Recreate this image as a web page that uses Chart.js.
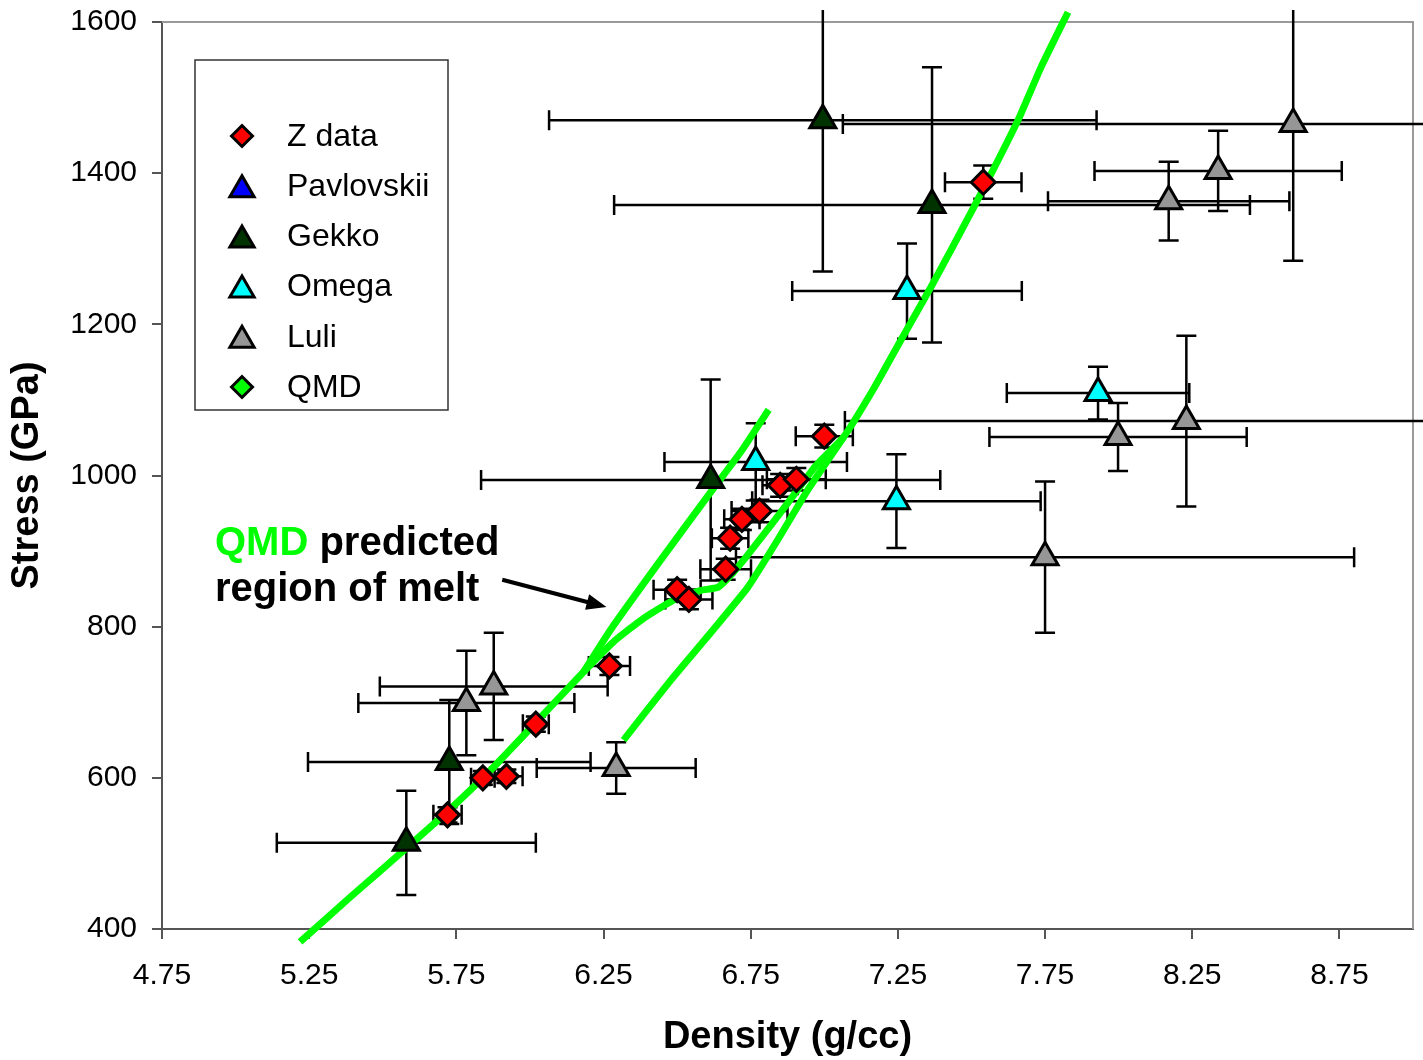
<!DOCTYPE html>
<html lang="en">
<head>
<meta charset="UTF-8">
<title>Stress vs Density</title>
<script src="https://cdn.jsdelivr.net/npm/chart.js"></script>
<style>
    html, body { margin: 0; padding: 0; background: #fff; }
    canvas { display: block; }
</style>
</head>
<body>
<canvas id="chart" width="1423" height="1060"></canvas>
<script>
const FONT = "'Liberation Sans', Arial, sans-serif";

// axis ticks
const xTicks = [4.75, 5.25, 5.75, 6.25, 6.75, 7.25, 7.75, 8.25, 8.75];
const yTicks = [400, 600, 800, 1000, 1200, 1400, 1600];

// Z data (density, stress, +/- errors)
const zX    = [5.72, 5.84, 5.92, 6.02, 6.27, 6.50, 6.54, 6.665, 6.68, 6.72, 6.78, 6.85, 6.905, 7.00, 7.54];
const zY    = [551, 600, 602, 671, 748, 849, 836, 876, 917, 942, 953, 987, 995, 1052, 1388];
const zXErr = [0.048, 0.04, 0.055, 0.044, 0.07, 0.08, 0.08, 0.086, 0.062, 0.06, 0.095, 0.06, 0.1, 0.097, 0.13];
const zYErr = [10, 9, 9, 10, 12, 13, 13, 14, 14, 14, 15, 15, 15, 15, 22];

// Pavlovskii (only in legend)
const pavX = [];
const pavY = [];
const pavXErr = [];
const pavYErr = [];

// Gekko
const gekX    = [5.58, 5.726, 6.614, 6.995, 7.366];
const gekY    = [514, 621, 994, 1470, 1358];
const gekXErr = [0.44, 0.48, 0.78, 0.93, 1.08];
const gekYErr = [69, 82, 133, 200, 182];

// Omega
const omeX    = [7.281, 6.767, 7.245, 7.93];
const omeY    = [1244, 1018, 966, 1109];
const omeXErr = [0.39, 0.31, 0.49, 0.31];
const omeYErr = [63, 51, 62, 35];

// Luli
const luX    = [5.784, 5.877, 6.293, 7.75, 7.998, 8.23, 8.17, 8.338, 8.593];
const luY    = [699, 721, 613, 892, 1051, 1072, 1363, 1403, 1465];
const luXErr = [0.367, 0.387, 0.27, 1.05, 0.437, 1.16, 0.41, 0.42, 1.53];
const luYErr = [69, 71, 34, 100, 45, 113, 52, 53, 181];

// QMD curves: hugoniot through the melt kink, solid branch, liquid branch
const qmdMainX = [5.219, 5.389, 5.583, 5.719, 5.866, 6.022, 6.182, 6.284, 6.386, 6.488, 6.58, 6.638, 6.689, 6.74, 6.818, 6.896, 6.971, 7.066, 7.165, 7.26, 7.362, 7.508, 7.658, 7.736, 7.828];
const qmdMainY = [383, 442, 508, 555, 610, 674, 740, 780, 811, 835, 848, 852, 871, 895, 934, 974, 1013, 1051, 1113, 1179, 1249, 1355, 1470, 1540, 1613];
const qmdSolidX = [6.182, 6.274, 6.444, 6.614, 6.716, 6.811];
const qmdSolidY = [740, 796, 888, 978, 1031, 1087];
const qmdLiquidX = [6.318, 6.478, 6.614, 6.74, 6.842, 6.944, 7.066];
const qmdLiquidY = [650, 729, 792, 852, 915, 981, 1051];

function pts(xs, ys) {
    return xs.map((x, i) => ({ x: x, y: ys[i] }));
}

function markerSet(label, xs, ys, ex, ey, style, color, r) {
    return {
        label: label,
        data: pts(xs, ys),
        errX: ex,
        errY: ey,
        pointStyle: style,
        pointRadius: r,
        backgroundColor: color,
        borderColor: '#000',
        borderWidth: 3,
        showLine: false,
        legendStyle: style,
        clip: false
    };
}

function qmdLine(xs, ys) {
    return {
        label: 'QMD',
        data: pts(xs, ys),
        showLine: true,
        borderColor: '#00ff00',
        borderWidth: 7,
        pointRadius: 0,
        tension: 0.15,
        fill: false,
        clip: { left: 20, top: 12, right: 20, bottom: 16 }
    };
}

// simple shapes, centred on their bounding box like the Excel markers
function diamond(ctx, x, y, r) {
    ctx.beginPath();
    ctx.moveTo(x - r, y); ctx.lineTo(x, y - r); ctx.lineTo(x + r, y); ctx.lineTo(x, y + r);
    ctx.closePath();
}
function triangle(ctx, x, y, r) {
    const h = r * 1.5, w = r * Math.sqrt(3) / 2;
    ctx.beginPath();
    ctx.moveTo(x, y - h / 2); ctx.lineTo(x + w, y + h / 2); ctx.lineTo(x - w, y + h / 2);
    ctx.closePath();
}

const errorBars = {
    id: 'errorBars',
    beforeDatasetsDraw(chart) {
        const ctx = chart.ctx, a = chart.chartArea;
        const xs = chart.scales.x, ys = chart.scales.y;
        ctx.save();
        // top and right frame of plot area
        ctx.strokeStyle = '#9a9a9a';
        ctx.lineWidth = 2;
        ctx.beginPath();
        ctx.moveTo(a.left, a.top); ctx.lineTo(a.right, a.top); ctx.lineTo(a.right, a.bottom);
        ctx.stroke();

        ctx.beginPath();
        ctx.rect(0, 10, chart.width, chart.height - 10);
        ctx.clip();
        ctx.strokeStyle = '#000';
        ctx.lineWidth = 2.5;
        const cap = 10;
        chart.data.datasets.forEach(ds => {
            if (!ds.errX) return;
            ds.data.forEach((p, i) => {
                const cx = xs.getPixelForValue(p.x), cy = ys.getPixelForValue(p.y);
                const x0 = xs.getPixelForValue(p.x - ds.errX[i]), x1 = xs.getPixelForValue(p.x + ds.errX[i]);
                const y0 = ys.getPixelForValue(p.y - ds.errY[i]), y1 = ys.getPixelForValue(p.y + ds.errY[i]);
                ctx.beginPath();
                ctx.moveTo(x0, cy); ctx.lineTo(x1, cy);
                ctx.moveTo(x0, cy - cap); ctx.lineTo(x0, cy + cap);
                ctx.moveTo(x1, cy - cap); ctx.lineTo(x1, cy + cap);
                ctx.moveTo(cx, y0); ctx.lineTo(cx, y1);
                ctx.moveTo(cx - cap, y0); ctx.lineTo(cx + cap, y0);
                ctx.moveTo(cx - cap, y1); ctx.lineTo(cx + cap, y1);
                ctx.stroke();
            });
        });
        ctx.restore();
    }
};

const overlay = {
    id: 'overlay',
    afterDraw(chart) {
        const ctx = chart.ctx, a = chart.chartArea;
        const xs = chart.scales.x, ys = chart.scales.y;
        ctx.save();

        // legend box
        const bx = a.left + 33, by = a.top + 38, bw = 253, bh = 350;
        ctx.fillStyle = '#fff';
        ctx.fillRect(bx, by, bw, bh);
        ctx.strokeStyle = '#333';
        ctx.lineWidth = 1.5;
        ctx.strokeRect(bx, by, bw, bh);
        ctx.font = '32px ' + FONT;
        ctx.textBaseline = 'middle';
        ctx.textAlign = 'left';
        let row = 0;
        chart.data.datasets.forEach(ds => {
            if (!ds.legendStyle) return;
            const ly = by + 76 + row * 50.2;
            const mx = bx + 47;
            if (ds.legendStyle === 'rectRot') diamond(ctx, mx, ly, 10.5);
            else triangle(ctx, mx, ly, 14);
            ctx.fillStyle = ds.backgroundColor;
            ctx.fill();
            ctx.lineWidth = 3;
            ctx.strokeStyle = '#000';
            ctx.stroke();
            ctx.fillStyle = '#000';
            ctx.fillText(ds.label, bx + 92, ly + 1);
            row++;
        });

        // annotation
        const tx = xs.getPixelForValue(4.93);
        ctx.font = 'bold 40px ' + FONT;
        ctx.textBaseline = 'alphabetic';
        ctx.fillStyle = '#00ff00';
        ctx.fillText('QMD', tx, ys.getPixelForValue(895));
        const w = ctx.measureText('QMD ').width;
        ctx.fillStyle = '#000';
        ctx.fillText('predicted', tx + w, ys.getPixelForValue(895));
        ctx.fillText('region of melt', tx, ys.getPixelForValue(834));

        // arrow
        const ax0 = xs.getPixelForValue(5.906), ay0 = ys.getPixelForValue(862);
        const ax1 = xs.getPixelForValue(6.26), ay1 = ys.getPixelForValue(826);
        const ang = Math.atan2(ay1 - ay0, ax1 - ax0);
        ctx.strokeStyle = '#000';
        ctx.lineWidth = 4;
        ctx.beginPath();
        ctx.moveTo(ax0, ay0);
        ctx.lineTo(ax1 - 14 * Math.cos(ang), ay1 - 14 * Math.sin(ang));
        ctx.stroke();
        ctx.beginPath();
        ctx.moveTo(ax1, ay1);
        ctx.lineTo(ax1 - 20 * Math.cos(ang) + 8 * Math.sin(ang), ay1 - 20 * Math.sin(ang) - 8 * Math.cos(ang));
        ctx.lineTo(ax1 - 20 * Math.cos(ang) - 8 * Math.sin(ang), ay1 - 20 * Math.sin(ang) + 8 * Math.cos(ang));
        ctx.closePath();
        ctx.fillStyle = '#000';
        ctx.fill();
        ctx.restore();
    }
};

const qmdLegend = qmdLine([], []);
qmdLegend.backgroundColor = '#00ff00';
qmdLegend.legendStyle = 'rectRot';

new Chart(document.getElementById('chart'), {
    type: 'scatter',
    data: {
        datasets: [
            markerSet('Z data', zX, zY, zXErr, zYErr, 'rectRot', '#ff0000', 12),
            markerSet('Pavlovskii', pavX, pavY, pavXErr, pavYErr, 'triangle', '#0000ff', 15),
            markerSet('Gekko', gekX, gekY, gekXErr, gekYErr, 'triangle', '#003300', 15),
            markerSet('Omega', omeX, omeY, omeXErr, omeYErr, 'triangle', '#00ffff', 15),
            markerSet('Luli', luX, luY, luXErr, luYErr, 'triangle', '#969696', 15),
            qmdLegend,
            qmdLine(qmdMainX, qmdMainY),
            qmdLine(qmdSolidX, qmdSolidY),
            qmdLine(qmdLiquidX, qmdLiquidY)
        ]
    },
    options: {
        responsive: false,
        animation: false,
        events: [],
        layout: { autoPadding: false, padding: { top: 22, right: 10, bottom: 0, left: 0 } },
        plugins: {
            legend: { display: false },
            tooltip: { enabled: false }
        },
        scales: {
            x: {
                type: 'linear',
                min: 4.75,
                max: 9.0,
                afterBuildTicks: s => { s.ticks = xTicks.map(v => ({ value: v })); },
                afterFit: s => { s.height = 131; s.paddingLeft = 0; s.paddingRight = 0; },
                grid: { drawOnChartArea: false, drawTicks: true, tickLength: 10, color: '#555', lineWidth: 2 },
                border: { color: '#555', width: 2 },
                ticks: {
                    padding: 19,
                    color: '#000',
                    font: { family: FONT, size: 30 },
                    maxRotation: 0,
                    callback: v => v.toFixed(2)
                },
                title: {
                    display: true,
                    text: 'Density (g/cc)',
                    color: '#000',
                    font: { family: FONT, size: 38, weight: 'bold' },
                    padding: { top: 0, bottom: 0 }
                }
            },
            y: {
                type: 'linear',
                min: 400,
                max: 1600,
                afterBuildTicks: s => { s.ticks = yTicks.map(v => ({ value: v })); },
                afterFit: s => { s.width = 162; s.paddingTop = 0; s.paddingBottom = 0; },
                grid: { drawOnChartArea: false, drawTicks: true, tickLength: 10, color: '#555', lineWidth: 2 },
                border: { color: '#555', width: 2 },
                ticks: {
                    padding: 15,
                    color: '#000',
                    font: { family: FONT, size: 30 },
                    callback: v => String(v)
                },
                title: {
                    display: true,
                    text: 'Stress (GPa)',
                    color: '#000',
                    font: { family: FONT, size: 38, weight: 'bold' },
                    padding: { top: 5, bottom: 0 }
                }
            }
        }
    },
    plugins: [errorBars, overlay]
});
</script>
</body>
</html>
